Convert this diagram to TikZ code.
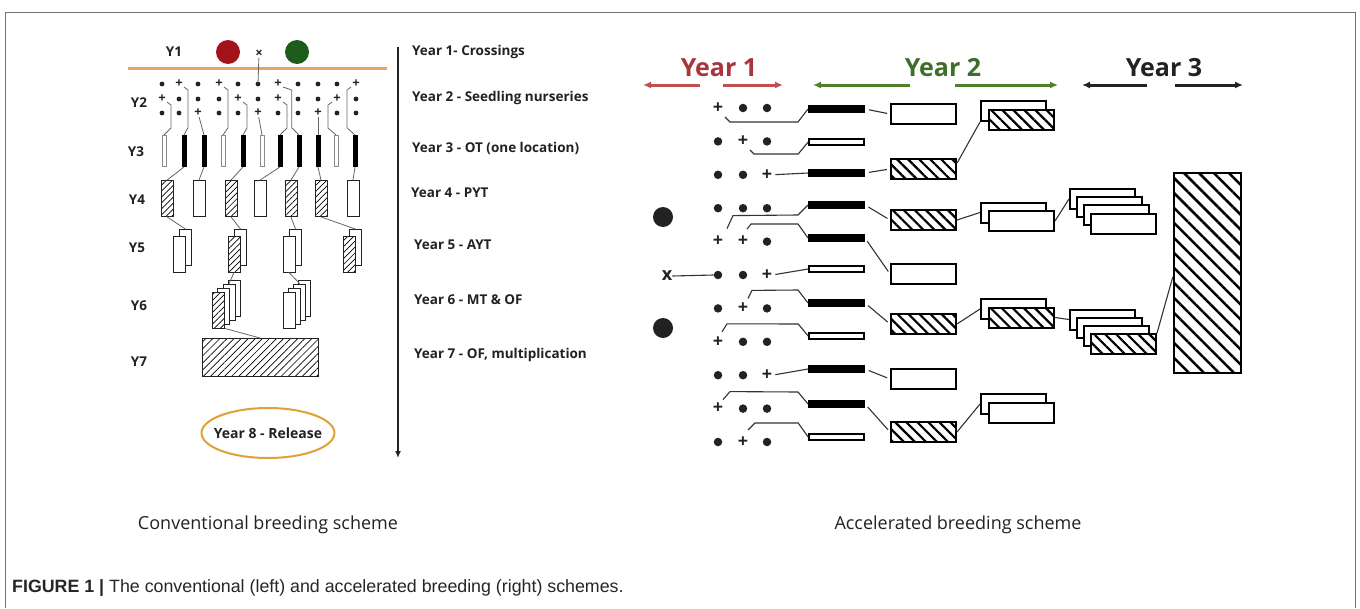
\documentclass[tikz,border=0pt]{standalone}
\usepackage{fontspec}
\setmainfont{Open Sans}
\newfontfamily\capfont{Liberation Sans}
\usetikzlibrary{arrows.meta,patterns.meta,shapes.geometric}
\definecolor{ink}{HTML}{222222}
\definecolor{crossline}{HTML}{E6A468}
\definecolor{release}{HTML}{DFA232}
\definecolor{parred}{HTML}{A3141A}
\definecolor{pargreen}{HTML}{1E5C1C}
\definecolor{yrred}{HTML}{A8343C}
\definecolor{arred}{HTML}{C0504D}
\definecolor{yrgreen}{HTML}{3F6E2B}
\definecolor{argreen}{HTML}{4E8030}
\newcommand\symp{+}
\newcommand\symd{}
\begin{document}
\begin{tikzpicture}[x=1pt,y=-1pt,
  lab/.style={font=\bfseries\fontsize{13.5}{15}\selectfont, text=ink, inner sep=0},
  stage/.style={lab, anchor=west},
  gp/.style={font=\bfseries\fontsize{13}{13}\selectfont, text=ink, inner sep=0},
  gd/.style={circle, fill=ink, inner sep=0, minimum size=4.8},
  lwire/.style={draw=black!60, line width=0.8},
  baro/.style={draw=black!45, fill=white, line width=1, minimum width=4, minimum height=31, inner sep=0},
  barb/.style={draw=black, fill=black, line width=1, minimum width=4, minimum height=31, inner sep=0},
  cell/.style={draw=ink, line width=0.9, minimum width=12, minimum height=36, inner sep=0},
  cello/.style={cell, fill=white},
  cellh/.style={cell, preaction={fill=white}, pattern={Lines[angle=45,distance=4.2pt,line width=0.7pt]}},
  rp/.style={font=\bfseries\fontsize{18}{18}\selectfont, text=ink, inner sep=0},
  rd/.style={circle, fill=ink, inner sep=0, minimum size=8.5},
  rbarb/.style={draw=black, fill=black, line width=1, minimum width=56, minimum height=7, inner sep=0},
  rbaro/.style={draw=black, fill=white, line width=1.6, minimum width=55, minimum height=5.5, inner sep=0},
  rbox/.style={draw=black, line width=2, minimum width=65, minimum height=20, inner sep=0},
  rboxo/.style={rbox, fill=white},
  rboxh/.style={rbox, preaction={fill=white}, pattern={Lines[angle=-45,distance=7.8pt,line width=2.2pt]}},
  wire/.style={draw=black!80, line width=1.1},
  hdr/.style={line width=3, -{Latex[length=8,width=7]}},
  yr/.style={font=\bfseries\fontsize{25}{25}\selectfont, inner sep=0}]

\fill[white] (0,0) rectangle (1360,608);
\useasboundingbox (0,0) rectangle (1360,608);
\draw[black!55, line width=1] (5,608) -- (5,12) -- (1355,12) -- (1355,608);

% conventional scheme
\node[circle, fill=parred, minimum size=24] (mother) at (228,52) {};
\node[circle, fill=pargreen, minimum size=24] (father) at (297,52) {};
\node[font=\bfseries\fontsize{13}{13}\selectfont, text=ink, inner sep=0] (xm) at (259,54) {×};
\coordinate (cl) at (128,68);
\coordinate (cr) at (387,68);
\draw[crossline, line width=3] (cl) -- (cr);

\node[lab] (y1) at (174,52) {Y1};
\node[lab] (y2) at (139,103) {Y2};
\node[lab] (y3) at (136,152) {Y3};
\node[lab] (y4) at (137,200) {Y4};
\node[lab] (y5) at (137,248) {Y5};
\node[lab] (y6) at (139,306) {Y6};
\node[lab] (y7) at (139,362) {Y7};

\foreach \c/\x/\ra/\rb/\rc in {1/162/d/p/d, 2/179/p/d/d, 3/198/d/d/p, 4/219/p/d/d, 5/238/d/p/d,
  6/258/d/d/p, 7/278/p/p/d, 8/298/d/d/d, 9/318/d/d/p, 10/337/d/p/d, 11/356/p/d/d} {
  \node[g\ra] (g\c-1) at (\x,84) {\csname sym\ra\endcsname};
  \node[g\rb] (g\c-2) at (\x,99) {\csname sym\rb\endcsname};
  \node[g\rc] (g\c-3) at (\x,113) {\csname sym\rc\endcsname};
}
\draw[lwire] (xm) -- (g6-1);

\foreach \i/\x/\t in {1/164/o, 2/184/b, 3/204/b, 4/223/o, 5/243/b, 6/262/o, 7/280/b, 8/299/b, 9/318/b, 10/336/o, 11/355/b}
  \node[bar\t] (y3bar\i) at (\x,151) {};

\foreach \p/\ox/\kx/\len/\b in {g1-2/5/4/23/1, g2-1/5/4/37.7/2, g4-1/5/4/37.7/4, g5-2/5/4/23/5,
  g7-2/5/4/23/7, g7-1/5/8.7/37.7/8, g10-2/-5/-4/23/10, g11-1/-5/-4/37.7/11}
  \draw[lwire] ([shift={(\ox,3)}]\p.center) -- ++(\kx,3) -- ++(0,\len) -- (y3bar\b.north);
\draw[lwire] (g3-3) -- (y3bar3.north);
\draw[lwire] (g6-3) -- (y3bar6.north);
\draw[lwire] (g9-3) -- (y3bar9.north);

\foreach \i/\x/\t in {1/167/h, 2/199/o, 3/231/h, 4/260/o, 5/291/h, 6/321/h, 7/353/o}
  \node[cell\t] (y4box\i) at (\x,198.5) {};
\foreach \a/\b in {2/1, 3/2, 5/3, 7/4, 8/5, 9/6, 11/7}
  \draw[lwire] (y3bar\a.south) -- (y4box\b.north);

\foreach \i/\x/\t in {1/179/o, 2/234/h, 3/289/o, 4/349/h} {
  \node[cello] (y5b\i) at (\x+6.5,247.5) {};
  \node[cell\t] (y5f\i) at (\x,254) {};
}
\foreach \a/\b in {1/1, 3/2, 5/3, 6/4}
  \draw[lwire] (y4box\a.south) -- (y5b\b.north);

\foreach \s/\x/\t in {a/218.5/h, b/289/o} {
  \foreach \k in {3,2,1}
    \node[cello] (y6\s\k) at (\x+5.3*\k,310-4*\k) {};
  \node[cell\t] (y6\s0) at (\x,310) {};
}
\draw[lwire] (y5f2.south) -- (y6a2.north);
\draw[lwire] (y5f3.south) -- (y6b2.north);

\node[cellh, minimum width=116, minimum height=38, pattern={Lines[angle=45,distance=5pt,line width=0.7pt]}] (y7box) at (260.5,357.5) {};
\draw[lwire] (y6a0.south east) -- (y7box.north);

\node[ellipse, draw=release, line width=2, minimum width=133, minimum height=50, inner xsep=-12, inner ysep=0, font=\bfseries\fontsize{14}{16}\selectfont, text=ink] (rel) at (268,433) {Year 8 - Release};

\coordinate (t0) at (398,47);
\coordinate (t1) at (398,458);
\draw[ink, line width=1.8, -{Latex[length=7,width=6]}] (t0) -- (t1);

\node[stage] (s1) at (412,52) {Year 1- Crossings};
\node[stage] (s2) at (412,98) {Year 2 - Seedling nurseries};
\node[stage] (s3) at (412,148) {Year 3 - OT (one location)};
\node[stage] (s4) at (411,193) {Year 4 - PYT};
\node[stage] (s5) at (414,245) {Year 5 - AYT};
\node[stage] (s6) at (414,300) {Year 6 - MT \& OF};
\node[stage] (s7) at (414,355) {Year 7 - OF, multiplication};

% accelerated scheme
\node[yr, text=yrred] (hy1) at (719,68) {Year 1};
\node[yr, text=yrgreen] (hy2) at (943,68) {Year 2};
\node[yr, text=ink] (hy3) at (1164,68) {Year 3};
\coordinate (a1l) at (643,85); \coordinate (a1m) at (700,85);
\coordinate (a1n) at (723,85); \coordinate (a1r) at (783,85);
\coordinate (a2l) at (813,85); \coordinate (a2m) at (910,85);
\coordinate (a2n) at (955,85); \coordinate (a2r) at (1058,85);
\coordinate (a3l) at (1082,85); \coordinate (a3m) at (1147,85);
\coordinate (a3n) at (1175,85); \coordinate (a3r) at (1243,85);
\draw[hdr, arred] (a1m) -- (a1l);
\draw[hdr, arred] (a1n) -- (a1r);
\draw[hdr, argreen] (a2m) -- (a2l);
\draw[hdr, argreen] (a2n) -- (a2r);
\draw[hdr, ink] (a3m) -- (a3l);
\draw[hdr, ink] (a3n) -- (a3r);

\node[circle, fill=ink, minimum size=20] (pa) at (663,217) {};
\node[circle, fill=ink, minimum size=20] (pb) at (663,328) {};
\node[font=\bfseries\fontsize{18}{18}\selectfont, text=ink, inner sep=0] (xr) at (667,276) {x};

\foreach \r/\a/\b/\c in {1/p/d/d, 2/d/p/d, 3/d/d/p, 4/d/d/d, 5/p/p/d, 6/d/d/p,
  7/d/p/d, 8/p/d/d, 9/d/d/p, 10/p/d/d, 11/d/p/d} {
  \pgfmathsetmacro\y{108+33.4*(\r-1)}
  \node[r\a] (r\r-1) at (718,\y) {\csname sym\a\endcsname};
  \node[r\b] (r\r-2) at (743,\y) {\csname sym\b\endcsname};
  \node[r\c] (r\r-3) at (767,\y) {\csname sym\c\endcsname};
}
\draw[wire] (xr.east) -- (r6-1.west);

\foreach \r/\y/\t in {1/109/b, 2/142/o, 3/173/b, 4/205/b, 5/238/b, 6/269/o, 7/303/b, 8/336/o, 9/369/b, 10/404/b, 11/437/o}
  \node[rbar\t] (bar\r) at (836.5,\y) {};

\foreach \s/\ox/\oy/\kx/\ky/\b/\dy in {r1-1/7/9/5/5/1/13, r2-2/7/8.6/4/4/2/12, r5-1/9/-13/6/-13/4/10,
  r5-2/4/-12.6/4/-5/5/-14, r7-2/5/-10/4/-8/7/-13, r8-1/4/-10/5/-8/8/-12,
  r10-1/5/-9/7/-8/10/-12, r11-2/5/-12/7/-7/11/-14}
  \draw[wire] ([shift={(\ox,\oy)}]\s.center) -- ++(\kx,\ky) -- ([shift={(-10,\dy)}]bar\b.west) -- (bar\b.west);
\foreach \r in {3,6,9}
  \draw[wire, shorten <=3pt] (r\r-3.east) -- (bar\r.west);

\foreach \i/\y/\t in {1/114/o, 2/169/h, 3/220/h, 4/274/o, 5/324/h, 6/379/o, 7/432/h}
  \node[rbox\t] (c\i) at (923.5,\y) {};
\foreach \a/\b in {1/1, 3/2, 4/3, 5/4, 7/5, 9/6, 10/7}
  \draw[wire, shorten <=4pt, shorten >=3pt] (bar\a.east) -- (c\b.west);

\foreach \i/\y/\t in {1/111/h, 2/212.5/o, 3/309/h, 4/404/o} {
  \node[rboxo] (pr\i-b) at (1013.5,\y) {};
  \node[rbox\t] (pr\i-f) at (1021.5,\y+8.5) {};
}
\draw[wire] ([shift={(0,-6)}]c2.east) -- (pr1-b.south west);
\draw[wire] (c3.east) -- (pr2-b.west);
\draw[wire] (c5.east) -- (pr3-b.west);
\draw[wire] (c7.east) -- (pr4-b.west);

\foreach \s/\y/\t in {1/199/o, 2/319.5/h} {
  \foreach \k in {1,2,3}
    \node[rboxo] (st\s-\k) at (1102.5+7*\k-7,\y+8.2*\k-8.2) {};
  \node[rbox\t] (st\s-4) at (1123.5,\y+24.6) {};
}
\draw[wire] (pr2-f.east) -- (st1-1.west);
\draw[wire] (pr3-f.east) -- (st2-1.west);

\node[rboxh, minimum width=67, minimum height=200, pattern={Lines[angle=-45,distance=10.6pt,line width=2.5pt]}] (big) at (1207.5,273) {};
\draw[wire] (st2-4.north east) -- ([shift={(0,4)}]big.west);

% captions
\node[font=\fontsize{18}{21}\selectfont, text=ink] (capl) at (268,525) {Conventional breeding scheme};
\node[font=\fontsize{18}{21}\selectfont, text=ink] (capr) at (958,525) {Accelerated breeding scheme};
\node[anchor=west, inner sep=0, font=\capfont\fontsize{17.8}{20}\selectfont, text=black!85] (fig) at (12,588) {\textbf{FIGURE 1 |} The conventional (left) and accelerated breeding (right) schemes.};
\end{tikzpicture}
\end{document}
